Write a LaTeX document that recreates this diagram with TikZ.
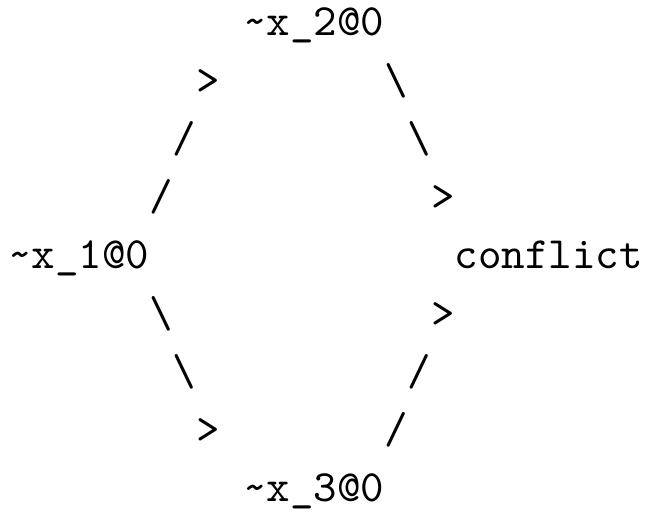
\documentclass[tikz,border=0pt]{standalone}
\usepackage{fontspec}
\newfontfamily\asciitt{lmmono10-regular.otf}
\tikzset{
  glyph/.style={inner sep=0pt, outer sep=0pt, anchor=base west,
    font=\asciitt\fontsize{44.76pt}{58pt}\selectfont}
}
% column c, row r  ->  position of the cell's base-left corner
\newcommand{\cellpos}[2]{({8.25pt+23.5pt*(#1)},{514pt-36pt-58.25pt*(#2)})}
\begin{document}
\begin{tikzpicture}
\useasboundingbox (0,0) rectangle (646pt,514pt);
% variable nodes
\node[glyph] (x2) at \cellpos{10}{0} {\textasciitilde x\_2@0};
\node[glyph] (x1) at \cellpos{0}{4} {\textasciitilde x\_1@0};
\node[glyph] (cf) at \cellpos{19}{4} {conflict};
\node[glyph] (x3) at \cellpos{10}{8} {\textasciitilde x\_3@0};
% x1 -> x2
\node[glyph] (a1) at \cellpos{6}{3} {/};
\node[glyph] (a2) at \cellpos{7}{2} {/};
\node[glyph] (a3) at \cellpos{8}{1} {>};
% x2 -> conflict
\node[glyph] (b1) at \cellpos{16}{1} {\textbackslash};
\node[glyph] (b2) at \cellpos{17}{2} {\textbackslash};
\node[glyph] (b3) at \cellpos{18}{3} {>};
% x1 -> x3
\node[glyph] (c1) at \cellpos{6}{5} {\textbackslash};
\node[glyph] (c2) at \cellpos{7}{6} {\textbackslash};
\node[glyph] (c3) at \cellpos{8}{7} {>};
% x3 -> conflict
\node[glyph] (d1) at \cellpos{16}{7} {/};
\node[glyph] (d2) at \cellpos{17}{6} {/};
\node[glyph] (d3) at \cellpos{18}{5} {>};
\end{tikzpicture}
\end{document}
